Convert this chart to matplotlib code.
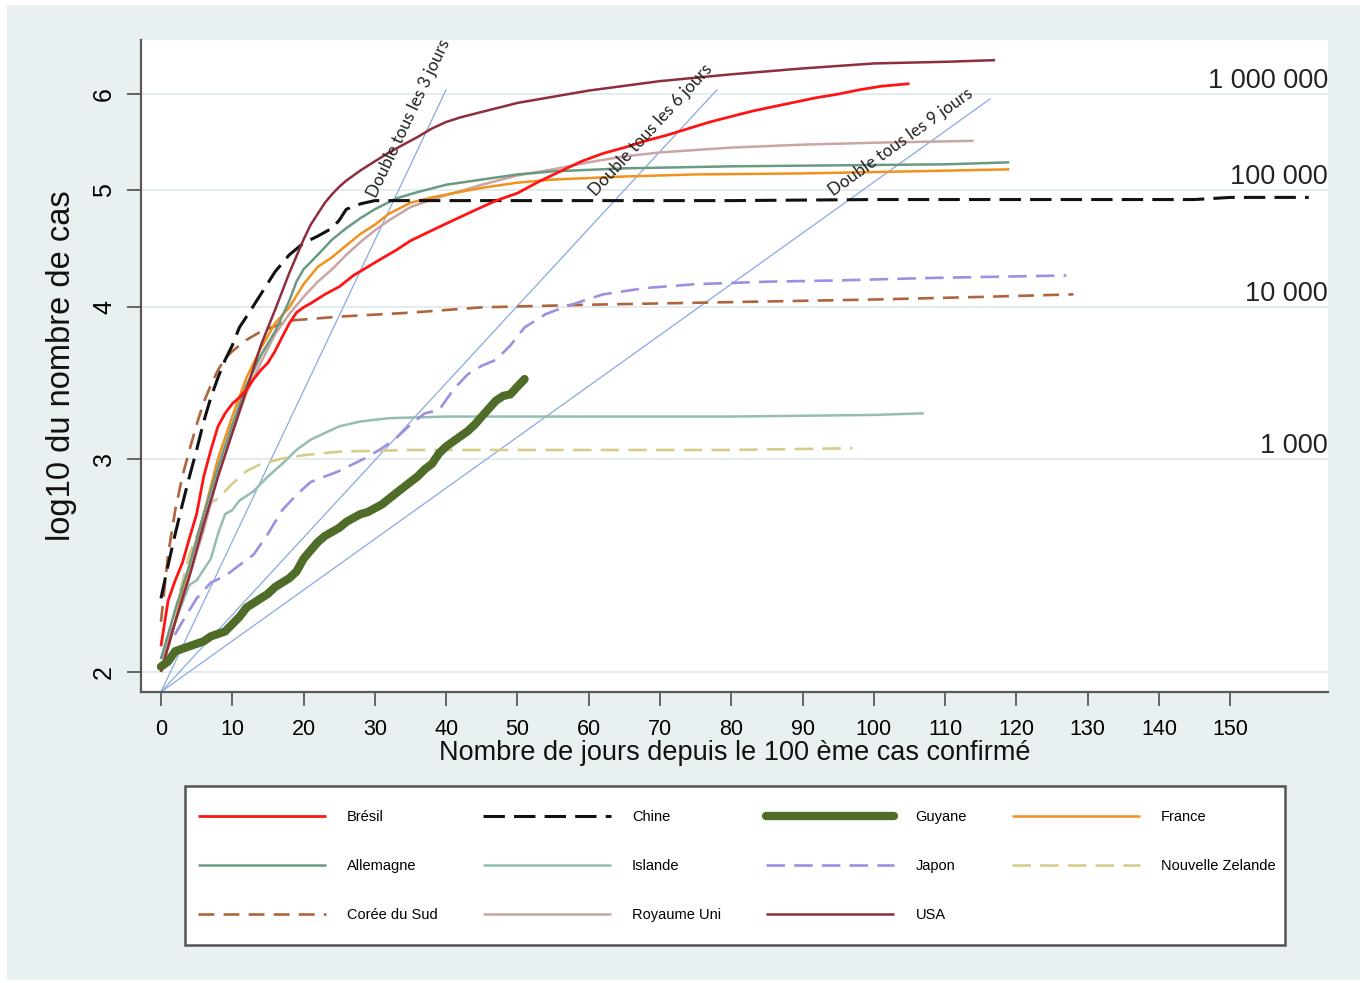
import numpy as np
import matplotlib.pyplot as plt
from matplotlib.patches import Rectangle

plt.rcParams['font.family'] = ['Liberation Sans', 'DejaVu Sans']

# jours depuis le 100e cas -> log10 du nombre de cas
bresil_j = [0, 1, 2, 3, 4, 5, 6, 7, 8, 9, 10, 11, 12, 13, 14, 15, 16, 17, 18, 19, 20, 21,
            23, 25, 27, 29, 31, 33, 35, 38, 41, 44, 47, 50, 53, 56, 59, 62, 65, 68, 71, 74,
            77, 80, 83, 86, 89, 92, 95, 98, 101, 105]
bresil_v = [2.10, 2.29, 2.38, 2.46, 2.58, 2.70, 2.90, 3.05, 3.19, 3.27, 3.33, 3.37, 3.42, 3.49,
            3.55, 3.60, 3.68, 3.78, 3.88, 3.96, 4.00, 4.03, 4.10, 4.16, 4.25, 4.32, 4.39, 4.46,
            4.54, 4.63, 4.72, 4.81, 4.90, 4.97, 5.08, 5.18, 5.28, 5.36, 5.42, 5.49, 5.55, 5.62,
            5.69, 5.75, 5.81, 5.86, 5.91, 5.96, 6.00, 6.05, 6.09, 6.12]

chine_j = [0, 1, 2, 3, 4, 5, 6, 7, 8, 9, 10, 11, 12, 14, 16, 18, 20, 22, 24, 25, 26, 28, 30,
           40, 60, 80, 100, 120, 145, 150, 161]
chine_v = [2.30, 2.45, 2.60, 2.75, 2.90, 3.05, 3.22, 3.37, 3.50, 3.62, 3.72, 3.85, 3.93, 4.10,
           4.28, 4.42, 4.52, 4.58, 4.65, 4.72, 4.82, 4.87, 4.90, 4.90, 4.90, 4.90, 4.91, 4.91,
           4.91, 4.93, 4.93]

guyane_j = list(range(52))
guyane_v = [2.02, 2.04, 2.08, 2.09, 2.10, 2.11, 2.12, 2.14, 2.15, 2.16,
            2.19, 2.22, 2.26, 2.28, 2.30, 2.32, 2.35, 2.37, 2.39, 2.42,
            2.48, 2.52, 2.56, 2.59, 2.61, 2.63, 2.66, 2.68, 2.70, 2.71,
            2.73, 2.75, 2.78, 2.81, 2.84, 2.87, 2.90, 2.94, 2.97, 3.03,
            3.07, 3.10, 3.13, 3.16, 3.20, 3.25, 3.30, 3.35, 3.38, 3.39,
            3.44, 3.49]

france_j = [0, 2, 4, 6, 8, 10, 12, 14, 16, 18, 20, 22, 24, 26, 28, 30, 32, 35, 38, 41, 45, 50,
            55, 65, 75, 90, 105, 119]
france_v = [2.00, 2.20, 2.45, 2.70, 3.00, 3.25, 3.50, 3.70, 3.88, 4.00, 4.18, 4.32, 4.40, 4.50,
            4.60, 4.68, 4.78, 4.88, 4.93, 4.97, 5.02, 5.07, 5.10, 5.13, 5.15, 5.16, 5.18, 5.20]

allemagne_j = [0, 2, 4, 6, 8, 10, 12, 14, 16, 18, 19, 20, 22, 24, 26, 28, 30, 33, 36, 40, 45,
               50, 55, 65, 80, 95, 110, 119]
allemagne_v = [2.05, 2.25, 2.45, 2.70, 2.95, 3.20, 3.45, 3.65, 3.82, 4.05, 4.20, 4.30, 4.42,
               4.55, 4.65, 4.74, 4.82, 4.92, 4.98, 5.05, 5.10, 5.15, 5.18, 5.21, 5.23, 5.24,
               5.25, 5.27]

islande_j = [0, 1, 2, 3, 4, 5, 6, 7, 8, 9, 10, 11, 13, 15, 17, 19, 21, 23, 25, 28, 32, 40, 60,
             80, 100, 107]
islande_v = [2.05, 2.10, 2.20, 2.28, 2.36, 2.38, 2.43, 2.48, 2.60, 2.70, 2.72, 2.77, 2.82, 2.90,
             2.97, 3.05, 3.11, 3.15, 3.19, 3.22, 3.24, 3.25, 3.25, 3.25, 3.26, 3.27]

japon_j = [0, 1, 3, 5, 7, 9, 11, 13, 15, 17, 19, 21, 23, 25, 27, 29, 31, 33, 35, 37, 39, 41, 43,
           45, 47, 49, 51, 54, 57, 62, 68, 75, 85, 95, 108, 127]
japon_v = [2.05, 2.10, 2.20, 2.30, 2.37, 2.40, 2.45, 2.50, 2.60, 2.72, 2.80, 2.87, 2.90, 2.93,
           2.97, 3.01, 3.06, 3.12, 3.20, 3.27, 3.29, 3.42, 3.52, 3.58, 3.62, 3.72, 3.85, 3.95,
           4.01, 4.10, 4.15, 4.18, 4.20, 4.21, 4.23, 4.25]

nz_j = [0, 2, 4, 6, 7, 8, 9, 10, 12, 14, 17, 20, 25, 35, 60, 80, 97]
nz_v = [2.00, 2.25, 2.50, 2.68, 2.76, 2.78, 2.82, 2.86, 2.93, 2.97, 3.00, 3.02, 3.04, 3.05,
        3.05, 3.05, 3.06]

coree_j = [0, 1, 2, 3, 4, 5, 6, 7, 8, 9, 10, 12, 14, 16, 18, 25, 35, 45, 60, 80, 100, 115, 128]
coree_v = [2.20, 2.50, 2.72, 2.90, 3.05, 3.20, 3.34, 3.45, 3.55, 3.63, 3.68, 3.76, 3.82, 3.86,
           3.90, 3.93, 3.96, 4.00, 4.02, 4.04, 4.06, 4.08, 4.10]

ru_j = [0, 2, 4, 6, 8, 10, 12, 14, 16, 18, 20, 22, 24, 26, 28, 30, 32, 35, 38, 41, 45, 50, 55,
        60, 65, 70, 80, 90, 100, 114]
ru_v = [2.05, 2.20, 2.40, 2.62, 2.90, 3.15, 3.40, 3.60, 3.80, 3.95, 4.08, 4.20, 4.30, 4.42,
        4.53, 4.63, 4.72, 4.84, 4.91, 4.97, 5.05, 5.14, 5.20, 5.27, 5.33, 5.37, 5.42, 5.45,
        5.47, 5.49]

usa_j = [0, 2, 4, 6, 8, 10, 12, 14, 16, 18, 20, 21, 22, 23, 24, 25, 26, 27, 28, 30, 32, 34, 36,
         38, 40, 42, 45, 50, 55, 60, 70, 80, 90, 100, 110, 117]
usa_v = [2.00, 2.20, 2.40, 2.65, 2.90, 3.15, 3.42, 3.72, 3.98, 4.27, 4.55, 4.68, 4.78, 4.88,
         4.96, 5.03, 5.09, 5.14, 5.19, 5.28, 5.37, 5.45, 5.53, 5.62, 5.69, 5.74, 5.80, 5.90,
         5.97, 6.04, 6.15, 6.23, 6.30, 6.36, 6.38, 6.40]

# droites de doublement : du coin (jour 0) jusqu'a ces points
dbl_textes = ['Double tous les 3 jours', 'Double tous les 6 jours', 'Double tous les 9 jours']
dbl_fin_j = [40, 78, 116.3]
dbl_fin_v = [6.05, 6.05, 5.945]
dbl_debut_v = 1.925

y_ticks = [2, 3, 4, 5, 6]
x_ticks = list(range(0, 151, 10))
droite_v = [3, 4, 5, 6]
droite_txt = ['1 000', '10 000', '100 000', '1 000 000']

fig = plt.figure(figsize=(13.65, 9.83), dpi=100, facecolor='white')
fig.add_artist(Rectangle((7 / 1365, 3 / 983), 1353 / 1365, 975 / 983, transform=fig.transFigure,
                         facecolor='#e8f0f2', edgecolor='none', zorder=-10))
ax = fig.add_axes([141 / 1365, 1 - 692 / 983, 1187 / 1365, 652 / 983])
ax.set_facecolor('white')
ax.set_yscale('log')
ax.set_xlim(-2.8, 163.7)
ax.set_ylim(dbl_debut_v, 6.65)

for v in y_ticks:
    ax.axhline(v, color='#e1ebee', lw=1.3, zorder=0)

# droites de doublement
for j, v in zip(dbl_fin_j, dbl_fin_v):
    ax.plot([0, j], [dbl_debut_v, v], color='#88aae2', lw=0.9, zorder=1)

courbes = {}
def trace(nom, j, v, **style):
    courbes[nom], = ax.plot(j, v, label=nom, solid_capstyle='butt', **style)

trace('Islande', islande_j, islande_v, color='#95bdb1', lw=1.8)
trace('Nouvelle Zelande', nz_j, nz_v, color='#d6cd8d', lw=1.9, dashes=(7, 3.5))
trace('Corée du Sud', coree_j, coree_v, color='#b0643c', lw=1.9, dashes=(6, 3.5))
trace('Japon', japon_j, japon_v, color='#9c90e2', lw=1.9, dashes=(7, 3.5))
trace('Royaume Uni', ru_j, ru_v, color='#c9a5a5', lw=1.8)
trace('France', france_j, france_v, color='#f0921c', lw=1.8)
trace('Allemagne', allemagne_j, allemagne_v, color='#6a9a82', lw=1.8)
trace('Chine', chine_j, chine_v, color='#111111', lw=2.2, dashes=(7, 3))
trace('USA', usa_j, usa_v, color='#8e2d3b', lw=1.8)
trace('Brésil', bresil_j, bresil_v, color='#ff1414', lw=2.0)
trace('Guyane', guyane_j, guyane_v, color='#4f6d28', lw=6.0, solid_joinstyle='round')
courbes['Guyane'].set_solid_capstyle('round')

# textes des droites de doublement, parallèles aux droites
dbl_pos = [(34.7, 5.73), (68.75, 5.60), (103.7, 5.48)]
for texte, j, v, pos in zip(dbl_textes, dbl_fin_j, dbl_fin_v, dbl_pos):
    p0 = ax.transData.transform((0, dbl_debut_v))
    p1 = ax.transData.transform((j, v))
    angle = np.degrees(np.arctan2(p1[1] - p0[1], p1[0] - p0[0]))
    ax.text(pos[0], pos[1], texte, rotation=angle, rotation_mode='anchor', ha='center',
            va='center', fontsize=12.3, color='#222222', family=['Lato', 'DejaVu Sans'])

for v, t in zip(droite_v, droite_txt):
    ax.text(1.0, v, t, transform=ax.get_yaxis_transform(), ha='right', va='bottom',
            fontsize=19.5, color='#222222')

ax.yaxis.set_major_locator(plt.FixedLocator(y_ticks))
ax.yaxis.set_minor_locator(plt.NullLocator())
ax.set_yticklabels([str(v) for v in y_ticks], rotation=90, va='center', fontsize=18)
ax.set_xticks(x_ticks)
ax.set_xticklabels([str(x) for x in x_ticks], fontsize=15.5)
ax.tick_params(axis='y', length=10, width=1.3, color='#5a5a5a', pad=8)
ax.tick_params(axis='x', length=10, width=1.3, color='#5a5a5a', pad=9.5)
for s in ['top', 'right']:
    ax.spines[s].set_visible(False)
for s in ['left', 'bottom']:
    ax.spines[s].set_color('#5a5a5a')
    ax.spines[s].set_linewidth(1.6)

ax.set_xlabel('Nombre de jours depuis le 100 ème cas confirmé', fontsize=19.5, va='center',
              color='#111111')
ax.xaxis.set_label_coords(0.5, -61 / 652)
ax.set_ylabel('log10 du nombre de cas', fontsize=23.5, va='center', color='#111111')
ax.yaxis.set_label_coords(-79 / 1187, 0.5)

# cadre de la légende
fig.add_artist(Rectangle((185 / 1365, 1 - 945 / 983), 1100 / 1365, 159 / 983,
                         transform=fig.transFigure, facecolor='white', edgecolor='#555555',
                         lw=1.8, zorder=1))
ordre = ['Brésil', 'Allemagne', 'Corée du Sud', 'Chine', 'Islande', 'Royaume Uni',
         'Guyane', 'Japon', 'USA', 'France', 'Nouvelle Zelande']
fig.legend([courbes[n] for n in ordre], ordre, loc='upper left',
           bbox_to_anchor=(198 / 1365, 1 - 810 / 983), ncol=4, frameon=False,
           borderpad=0, borderaxespad=0, handlelength=8.78, handletextpad=1.44,
           columnspacing=3.1, labelspacing=2.39, prop={'size': 10.5})

fig.savefig('out.png', dpi=100)
